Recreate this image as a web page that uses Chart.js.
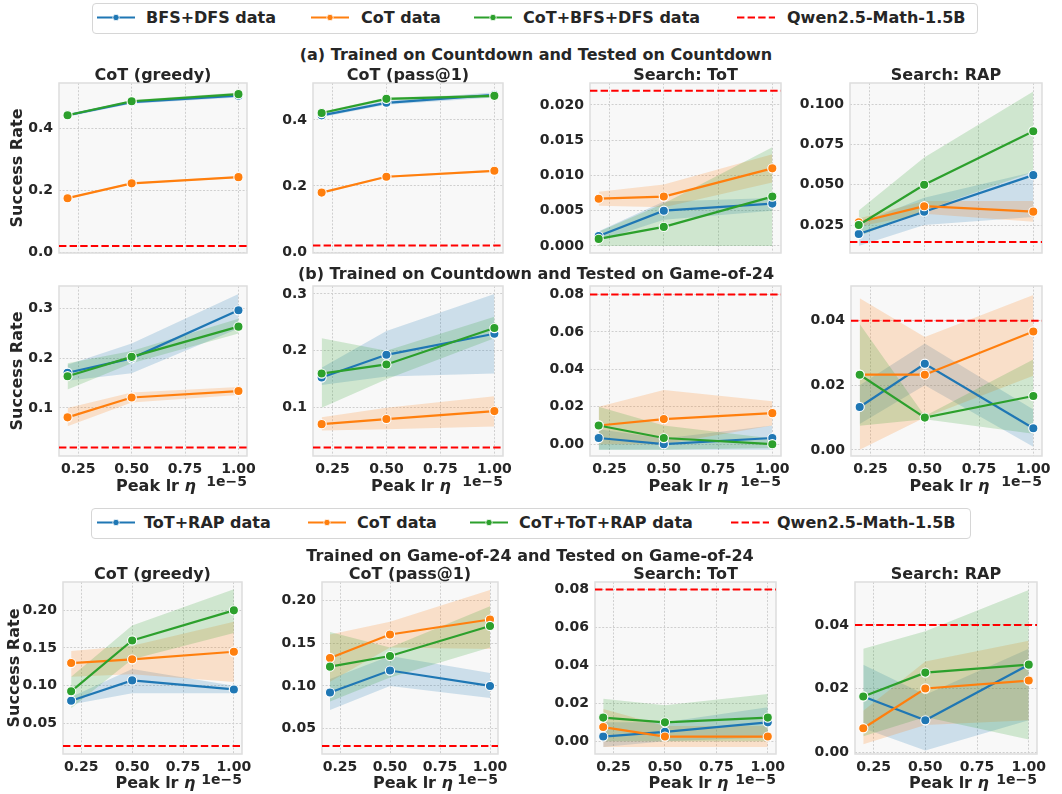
<!DOCTYPE html>
<html>
<head>
<title>Peak lr sweep</title>
<script src="https://cdn.jsdelivr.net/npm/chart.js@4/dist/chart.umd.min.js"></script>
<style>
  body { margin: 0; background: #fff; }
  #fig { position: relative; width: 1062px; height: 794px; overflow: hidden;
         font-family: "DejaVu Sans", sans-serif; font-weight: bold; color: #262626; }
  #fig canvas { position: absolute; }
  .txt { position: absolute; white-space: nowrap; font-size: 16px; line-height: 16px;
         transform: translate(-50%, -50%); }
  .off { position: absolute; white-space: nowrap; font-size: 14px; line-height: 14px;
         transform: translate(-100%, -50%); }
  .legend { position: absolute; border: 1px solid #d6d6d6; border-radius: 4px; background: #fff; }
  .item { position: absolute; white-space: nowrap; font-size: 16px; line-height: 16px;
          transform: translateY(-50%); }
  .handle { position: absolute; transform: translateY(-50%); }
</style>
</head>
<body>
<div id="fig"></div>
<script>
// x values: peak learning rate (x1e-5)
const lrs = [0.2, 0.5, 1.0];
const xTicks = [0.25, 0.5, 0.75, 1.0];
const xTickLabels = ['0.25', '0.50', '0.75', '1.00'];

const panelTitles = ['CoT (greedy)', 'CoT (pass@1)', 'Search: ToT', 'Search: RAP'];
const rowTitles = [
  '(a) Trained on Countdown and Tested on Countdown',
  '(b) Trained on Countdown and Tested on Game-of-24',
  'Trained on Game-of-24 and Tested on Game-of-24'
];
const seriesNamesAB = ['BFS+DFS data', 'CoT data', 'CoT+BFS+DFS data', 'Qwen2.5-Math-1.5B'];
const seriesNamesC = ['ToT+RAP data', 'CoT data', 'CoT+ToT+RAP data', 'Qwen2.5-Math-1.5B'];

// each array: 4 panels (greedy, pass@1, ToT, RAP) x 3 learning rates
// row (a): Countdown -> Countdown
const aSearch   = [[0.442, 0.484, 0.505], [0.414, 0.452, 0.476], [0.0014, 0.005, 0.006], [0.0194, 0.0333, 0.056]];
const aSearchLo = [[0.437, 0.479, 0.499], [0.408, 0.446, 0.468], [0.0007, 0.0037, 0.005], [0.012, 0.025, 0.03]];
const aSearchHi = [[0.447, 0.489, 0.511], [0.420, 0.458, 0.484], [0.0021, 0.0063, 0.0068], [0.026, 0.042, 0.058]];
const aCot      = [[0.174, 0.222, 0.242], [0.180, 0.228, 0.246], [0.0067, 0.007, 0.011], [0.0267, 0.0367, 0.0333]];
const aCotLo    = [[0.171, 0.219, 0.239], [0.177, 0.225, 0.243], [0.0057, 0.0055, 0.009], [0.024, 0.032, 0.027]];
const aCotHi    = [[0.177, 0.225, 0.245], [0.183, 0.231, 0.249], [0.0077, 0.0087, 0.013], [0.029, 0.040, 0.040]];
const aMix      = [[0.442, 0.487, 0.510], [0.421, 0.464, 0.473], [0.001, 0.0027, 0.007], [0.025, 0.050, 0.0833]];
const aMixLo    = [[0.438, 0.483, 0.505], [0.417, 0.460, 0.468], [0.0, 0.0, 0.0], [0.018, 0.034, 0.058]];
const aMixHi    = [[0.446, 0.491, 0.515], [0.425, 0.468, 0.478], [0.002, 0.006, 0.014], [0.034, 0.067, 0.108]];
const aBase = [0.02, 0.02, 0.022, 0.0145];
const aYLim = [[-0.003, 0.546], [-0.003, 0.512], [-0.001, 0.0231], [0.0076, 0.1133]];
const aYTicks = [[0, 0.2, 0.4], [0, 0.2, 0.4], [0, 0.005, 0.01, 0.015, 0.02], [0.025, 0.05, 0.075, 0.1]];
const aYLabels = [['0.0', '0.2', '0.4'], ['0.0', '0.2', '0.4'], ['0.000', '0.005', '0.010', '0.015', '0.020'], ['0.025', '0.050', '0.075', '0.100']];

// row (b): Countdown -> Game-of-24
const bSearch   = [[0.171, 0.200, 0.297], [0.153, 0.193, 0.230], [0.0033, 0.0, 0.0033], [0.0133, 0.0267, 0.0067]];
const bSearchLo = [[0.155, 0.170, 0.260], [0.140, 0.155, 0.160], [-0.003, -0.003, -0.003], [0.008, 0.020, 0.001]];
const bSearchHi = [[0.187, 0.230, 0.330], [0.170, 0.235, 0.300], [0.008, 0.003, 0.010], [0.020, 0.033, 0.0125]];
const bCot      = [[0.081, 0.121, 0.134], [0.071, 0.080, 0.094], [0.010, 0.0134, 0.0166], [0.0233, 0.0233, 0.0367]];
const bCotLo    = [[0.063, 0.111, 0.126], [0.060, 0.062, 0.067], [0.0, 0.0, 0.010], [0.0, 0.010, 0.023]];
const bCotHi    = [[0.100, 0.131, 0.142], [0.083, 0.100, 0.120], [0.020, 0.029, 0.023], [0.047, 0.035, 0.048]];
const bMix      = [[0.164, 0.203, 0.264], [0.160, 0.176, 0.240], [0.010, 0.0033, 0.0], [0.0233, 0.010, 0.0167]];
const bMixLo    = [[0.137, 0.190, 0.250], [0.100, 0.150, 0.222], [-0.003, -0.003, -0.002], [0.0075, 0.0095, 0.005]];
const bMixHi    = [[0.190, 0.215, 0.280], [0.222, 0.200, 0.260], [0.020, 0.010, 0.003], [0.039, 0.0105, 0.028]];
const bBase = [0.02, 0.03, 0.08, 0.04];
const bYLim = [[0.003, 0.346], [0.015, 0.314], [-0.0063, 0.0845], [-0.0019, 0.0508]];
const bYTicks = [[0.1, 0.2, 0.3], [0.1, 0.2, 0.3], [0, 0.02, 0.04, 0.06, 0.08], [0, 0.02, 0.04]];
const bYLabels = [['0.1', '0.2', '0.3'], ['0.1', '0.2', '0.3'], ['0.00', '0.02', '0.04', '0.06', '0.08'], ['0.00', '0.02', '0.04']];

// row (c): Game-of-24 -> Game-of-24
const cSearch   = [[0.080, 0.107, 0.095], [0.0923, 0.118, 0.100], [0.0025, 0.005, 0.010], [0.0175, 0.010, 0.0275]];
const cSearchLo = [[0.075, 0.090, 0.090], [0.072, 0.100, 0.086], [-0.003, 0.0, 0.002], [0.0075, 0.0005, 0.010]];
const cSearchHi = [[0.085, 0.122, 0.100], [0.108, 0.135, 0.115], [0.010, 0.010, 0.018], [0.0275, 0.018, 0.0325]];
const cCot      = [[0.130, 0.135, 0.145], [0.1326, 0.160, 0.1775], [0.0075, 0.0025, 0.0025], [0.0075, 0.020, 0.0225]];
const cCotLo    = [[0.112, 0.115, 0.105], [0.105, 0.145, 0.143], [-0.003, -0.003, -0.003], [0.0025, 0.0085, 0.010]];
const cCotHi    = [[0.146, 0.153, 0.185], [0.160, 0.175, 0.212], [0.017, 0.008, 0.008], [0.013, 0.0285, 0.035]];
const cMix      = [[0.0925, 0.160, 0.200], [0.1225, 0.135, 0.170], [0.0125, 0.010, 0.0125], [0.0175, 0.025, 0.0275]];
const cMixLo    = [[0.070, 0.135, 0.170], [0.082, 0.110, 0.145], [0.0, 0.0, 0.0], [0.005, 0.011, 0.004]];
const cMixHi    = [[0.112, 0.180, 0.228], [0.163, 0.145, 0.193], [0.0225, 0.019, 0.025], [0.0325, 0.038, 0.051]];
const cBase = [0.02, 0.03, 0.08, 0.04];
const cYLim = [[0.0093, 0.2376], [0.0206, 0.2213], [-0.0067, 0.084], [-0.0006, 0.0535]];
const cYTicks = [[0.05, 0.1, 0.15, 0.2], [0.05, 0.1, 0.15, 0.2], [0, 0.02, 0.04, 0.06, 0.08], [0, 0.02, 0.04]];
const cYLabels = [['0.05', '0.10', '0.15', '0.20'], ['0.05', '0.10', '0.15', '0.20'], ['0.00', '0.02', '0.04', '0.06', '0.08'], ['0.00', '0.02', '0.04']];

const colors = ['#1f77b4', '#ff7f0e', '#2ca02c'];
const bands = ['rgba(31,119,180,0.2)', 'rgba(255,127,14,0.2)', 'rgba(44,160,44,0.2)'];

// plot areas in page pixels: left, top, right, bottom
const plotRects = [
  [[59, 83, 247, 253], [313, 83, 503, 253], [590, 83, 781, 253], [850, 83, 1042, 253]],
  [[59, 286, 247, 456], [313, 286, 503, 456], [590, 286, 781, 456], [851, 286, 1042, 456]],
  [[63, 582, 242, 754], [322, 582, 498, 754], [595, 582, 776, 754], [855, 582, 1037, 754]]
];

const fig = document.getElementById('fig');
const tickFont = { family: 'DejaVu Sans', weight: 'bold', size: 14 };

function pts(arr) {
  return lrs.map((x, i) => ({ x: x, y: arr[i] }));
}

function makePanel(rect, mean, lo, hi, base, yLim, yTicks, yLabels, showX) {
  const [l, t, r, b] = rect;
  const W = 60, PT = 8, PR = 30, XH = 30;
  const cw = r - l + W + PR, ch = b - t + PT + XH;
  const cv = document.createElement('canvas');
  cv.width = cw; cv.height = ch;
  cv.style.left = (l - W) + 'px'; cv.style.top = (t - PT) + 'px';
  cv.style.width = cw + 'px'; cv.style.height = ch + 'px';
  fig.appendChild(cv);

  const datasets = [];
  for (let s = 0; s < 3; s++) {
    datasets.push({ data: pts(lo[s]), borderColor: 'rgba(0,0,0,0)', borderWidth: 1, pointRadius: 0, fill: false, order: 8 - s });
    datasets.push({ data: pts(hi[s]), borderColor: 'rgba(0,0,0,0)', borderWidth: 1, pointRadius: 0, fill: '-1', backgroundColor: bands[s], order: 8 - s });
  }
  for (let s = 0; s < 3; s++) {
    datasets.push({
      data: pts(mean[s]), borderColor: colors[s], borderWidth: 2.2, fill: false, tension: 0,
      pointRadius: 4.6, pointBackgroundColor: colors[s], pointBorderColor: '#fff', pointBorderWidth: 1.1,
      order: 3 - s
    });
  }

  const frame = {
    id: 'frame',
    beforeDraw(chart) {
      const a = chart.chartArea, ctx = chart.ctx;
      ctx.save();
      ctx.fillStyle = '#f8f8f8';
      ctx.fillRect(a.left, a.top, a.right - a.left, a.bottom - a.top);
      ctx.restore();
    },
    beforeDatasetsDraw(chart) {
      const a = chart.chartArea, ctx = chart.ctx;
      ctx.save();
      ctx.strokeStyle = '#dddddd';
      ctx.lineWidth = 1.5;
      ctx.strokeRect(a.left, a.top, a.right - a.left, a.bottom - a.top);
      ctx.restore();
    },
    afterDatasetsDraw(chart) {
      const a = chart.chartArea, ctx = chart.ctx;
      const y = chart.scales.y.getPixelForValue(base);
      ctx.save();
      ctx.strokeStyle = '#ff0000';
      ctx.lineWidth = 2;
      ctx.setLineDash([7.4, 3.2]);
      ctx.beginPath();
      ctx.moveTo(a.left, y);
      ctx.lineTo(a.right, y);
      ctx.stroke();
      ctx.restore();
    }
  };

  new Chart(cv, {
    type: 'line',
    data: { datasets: datasets },
    plugins: [frame],
    options: {
      responsive: false,
      animation: false,
      layout: { padding: { top: PT, right: PR, left: 0, bottom: 0 } },
      plugins: { legend: { display: false }, tooltip: { enabled: false } },
      scales: {
        x: {
          type: 'linear', min: 0.16, max: 1.04,
          afterBuildTicks: ax => { ax.ticks = xTicks.map(v => ({ value: v })); },
          afterFit: ax => { ax.height = XH; ax.paddingLeft = 0; ax.paddingRight = 0; },
          ticks: { display: showX, padding: 5, color: '#262626', font: tickFont, maxRotation: 0,
                   callback: (v, i) => xTickLabels[i] },
          grid: { color: '#cfcfcf', lineWidth: 1, drawTicks: false },
          border: { display: false, dash: [2, 1.6] }
        },
        y: {
          min: yLim[0], max: yLim[1],
          afterBuildTicks: ax => { ax.ticks = yTicks.map(v => ({ value: v })); },
          afterFit: ax => { ax.width = W; ax.paddingTop = 0; ax.paddingBottom = 0; },
          ticks: { padding: 6, color: '#262626', font: tickFont, callback: (v, i) => yLabels[i] },
          grid: { color: '#cfcfcf', lineWidth: 1, drawTicks: false },
          border: { display: false, dash: [2, 1.6] }
        }
      }
    }
  });
}

function addText(cls, html, x, y, extra) {
  const d = document.createElement('div');
  d.className = cls;
  d.innerHTML = html;
  d.style.left = x + 'px';
  d.style.top = y + 'px';
  if (extra) d.style.transform = extra;
  fig.appendChild(d);
}

function handleSvg(color, dashed) {
  if (dashed) {
    return '<svg width="38" height="12"><line x1="0" y1="6" x2="38" y2="6" stroke="' + color +
           '" stroke-width="2" stroke-dasharray="7.4 3.2"/></svg>';
  }
  return '<svg width="38" height="12"><line x1="0" y1="6" x2="38" y2="6" stroke="' + color +
         '" stroke-width="2.2"/><circle cx="19" cy="6" r="3.2" fill="' + color +
         '" stroke="#fff" stroke-width="0.8"/></svg>';
}

function addLegend(names, box, handleX, textX, cy) {
  const lg = document.createElement('div');
  lg.className = 'legend';
  lg.style.left = box[0] + 'px'; lg.style.top = box[1] + 'px';
  lg.style.width = box[2] + 'px'; lg.style.height = box[3] + 'px';
  fig.appendChild(lg);
  const cols = colors.concat(['#ff0000']);
  for (let i = 0; i < 4; i++) {
    const h = document.createElement('div');
    h.className = 'handle';
    h.style.left = handleX[i] + 'px'; h.style.top = cy + 'px';
    h.innerHTML = handleSvg(cols[i], i === 3);
    fig.appendChild(h);
    const tx = document.createElement('div');
    tx.className = 'item';
    tx.textContent = names[i];
    tx.style.left = textX[i] + 'px'; tx.style.top = cy + 'px';
    fig.appendChild(tx);
  }
}

const rows = [
  [aSearch, aCot, aMix, aSearchLo, aCotLo, aMixLo, aSearchHi, aCotHi, aMixHi, aBase, aYLim, aYTicks, aYLabels],
  [bSearch, bCot, bMix, bSearchLo, bCotLo, bMixLo, bSearchHi, bCotHi, bMixHi, bBase, bYLim, bYTicks, bYLabels],
  [cSearch, cCot, cMix, cSearchLo, cCotLo, cMixLo, cSearchHi, cCotHi, cMixHi, cBase, cYLim, cYTicks, cYLabels]
];

rows.forEach((row, ri) => {
  for (let p = 0; p < 4; p++) {
    const mean = [row[0][p], row[1][p], row[2][p]];
    const lo = [row[3][p], row[4][p], row[5][p]];
    const hi = [row[6][p], row[7][p], row[8][p]];
    makePanel(plotRects[ri][p], mean, lo, hi, row[9][p], row[10][p], row[11][p], row[12][p], ri > 0);
  }
});

// titles and labels
addText('txt', rowTitles[0], 536, 55);
addText('txt', rowTitles[1], 536, 274);
addText('txt', rowTitles[2], 530, 556);
for (let p = 0; p < 4; p++) {
  const ra = plotRects[0][p], rc = plotRects[2][p];
  addText('txt', panelTitles[p], (ra[0] + ra[2]) / 2, 75);
  addText('txt', panelTitles[p], (rc[0] + rc[2]) / 2, 574);
}
[[17, 0], [17, 1], [14, 2]].forEach(([x, ri]) => {
  const r = plotRects[ri][0];
  addText('txt', 'Success Rate', x, (r[1] + r[3]) / 2, 'translate(-50%, -50%) rotate(-90deg)');
});
[[1, 486, 481], [2, 783, 779]].forEach(([ri, ly, oy]) => {
  for (let p = 0; p < 4; p++) {
    const r = plotRects[ri][p];
    addText('txt', 'Peak lr <i>η</i>', (r[0] + r[2]) / 2 + 3, ly);
    addText('off', '1e\u22125', r[2], oy);
  }
});

addLegend(seriesNamesAB, [92, 3, 884, 29], [97, 311, 474, 737], [146, 361, 523, 787], 18);
addLegend(seriesNamesC, [91, 508, 878, 29], [97, 308, 470, 731], [144, 357, 519, 777], 523);
</script>
</body>
</html>
